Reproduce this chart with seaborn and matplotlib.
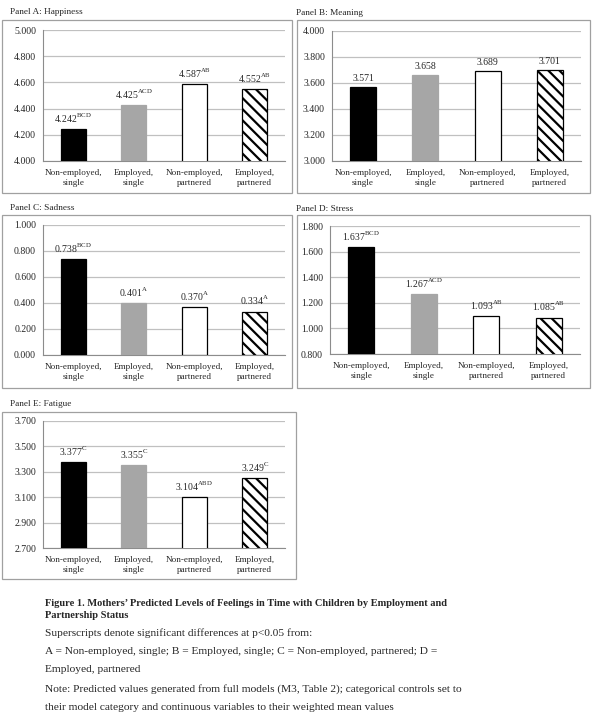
import matplotlib
matplotlib.use("Agg")
import matplotlib.pyplot as plt
import seaborn as sns
import numpy as np
from matplotlib.patches import Rectangle

sns.set_theme(style="white")
plt.rcParams['font.family'] = ['Liberation Serif', 'DejaVu Serif']
plt.rcParams['mathtext.fontset'] = 'custom'
plt.rcParams['mathtext.rm'] = 'Liberation Serif'
plt.rcParams['hatch.linewidth'] = 1.6

categories = ["Non-employed,\nsingle", "Employed,\nsingle",
              "Non-employed,\npartnered", "Employed,\npartnered"]

happiness = [4.242, 4.425, 4.587, 4.552]
happiness_sup = ["BCD", "ACD", "AB", "AB"]
meaning = [3.571, 3.658, 3.689, 3.701]
meaning_sup = ["", "", "", ""]
sadness = [0.738, 0.401, 0.370, 0.334]
sadness_sup = ["BCD", "A", "A", "A"]
stress = [1.637, 1.267, 1.093, 1.085]
stress_sup = ["BCD", "ACD", "AB", "AB"]
fatigue = [3.377, 3.355, 3.104, 3.249]
fatigue_sup = ["C", "C", "ABD", "C"]

W, H = 608, 725
fig = plt.figure(figsize=(W / 100, H / 100), dpi=100)

bar_colors = ["black", "#a6a6a6", "white", "white"]
edge_colors = ["black", "#a6a6a6", "black", "black"]


def px_rect(l, t, r, b):
    return [l / W, 1 - b / H, (r - l) / W, (b - t) / H]


def panel(title, vals, sups, ylim, axpx, boxpx, titlepx):
    # outer grey frame
    l, t, r, b = boxpx
    fig.patches.append(Rectangle((l / W, 1 - b / H), (r - l) / W, (b - t) / H,
                                 transform=fig.transFigure, fill=False,
                                 edgecolor="#a0a0a0", linewidth=0.9))
    fig.text(titlepx[0] / W, 1 - titlepx[1] / H, title, fontsize=6.7,
             va="center", ha="left")
    ax = fig.add_axes(px_rect(*axpx))
    sns.barplot(x=categories, y=vals, hue=categories, palette=bar_colors,
                legend=False, width=0.42, ax=ax, saturation=1, zorder=3)
    for i, p in enumerate(ax.patches):
        p.set_edgecolor(edge_colors[i])
        p.set_linewidth(0.9)
        if i == 3:
            p.set_hatch("\\\\\\")
    ax.set_ylim(*ylim)
    ax.set_xlim(-0.5, 3.5)
    ticks = np.linspace(ylim[0], ylim[1], 6)
    ax.set_yticks(ticks)
    ax.set_yticklabels([f"{v:.3f}" for v in ticks])
    ax.yaxis.grid(True, color="#c0c0c0", linewidth=0.9, zorder=0)
    ax.set_axisbelow(True)
    for s in ["top", "right"]:
        ax.spines[s].set_visible(False)
    for s in ["left", "bottom"]:
        ax.spines[s].set_color("#8c8c8c")
        ax.spines[s].set_linewidth(0.8)
    ax.set_xticks([0, 1, 2, 3])
    ax.set_xticklabels(categories)
    ax.set_xticks([-0.5, 0.5, 1.5, 2.5, 3.5], minor=True)
    ax.tick_params(axis="x", which="major", length=0, labelsize=6.6, pad=6)
    ax.tick_params(axis="x", which="minor", length=3, color="#8c8c8c",
                   direction="out", width=0.8)
    ax.tick_params(axis="y", length=3, color="#8c8c8c", width=0.8,
                   direction="out", labelsize=7, pad=2)
    for lab in ax.get_xticklabels():
        lab.set_linespacing(1.3)
    ax.set_xlabel("")
    ax.set_ylabel("")
    for i, (v, s) in enumerate(zip(vals, sups)):
        txt = f"{v:.3f}" + (r"$^{\mathrm{" + s + "}}$" if s else "")
        ax.annotate(txt, (i, v), xytext=(0, 3), textcoords="offset points",
                    ha="center", va="bottom", fontsize=7)
    return ax


panel("Panel A: Happiness", happiness, happiness_sup, (4.0, 5.0),
      (43, 30, 285, 161), (2, 20, 292, 193), (10, 12))
panel("Panel B: Meaning", meaning, meaning_sup, (3.0, 4.0),
      (332, 31, 581, 161), (297, 20, 590, 193), (296, 13))
panel("Panel C: Sadness", sadness, sadness_sup, (0.0, 1.0),
      (43, 225, 285, 355), (2, 215, 292, 388), (10, 208))
panel("Panel D: Stress", stress, stress_sup, (0.8, 1.8),
      (330, 226, 580, 354), (297, 215, 590, 388), (296, 209))
panel("Panel E: Fatigue", fatigue, fatigue_sup, (2.7, 3.7),
      (43, 421, 285, 548), (2, 412, 296, 579), (10, 404))

caption_bold = [
    ("Figure 1. Mothers\u2019 Predicted Levels of Feelings in Time with Children by Employment and", 604),
    ("Partnership Status", 616),
]
for s, y in caption_bold:
    fig.text(45 / W, 1 - y / H, s, fontsize=7.5, fontweight="bold",
             va="center", ha="left")
lines = [
    ("Superscripts denote significant differences at p<0.05 from:", 633),
    ("A = Non-employed, single; B = Employed, single; C = Non-employed, partnered; D =", 652),
    ("Employed, partnered", 670),
    ("Note: Predicted values generated from full models (M3, Table 2); categorical controls set to", 689),
    ("their model category and continuous variables to their weighted mean values", 707),
]
for s, y in lines:
    fig.text(45 / W, 1 - y / H, s, fontsize=8.2, va="center", ha="left")

fig.savefig("out.png", dpi=100, facecolor="white")
